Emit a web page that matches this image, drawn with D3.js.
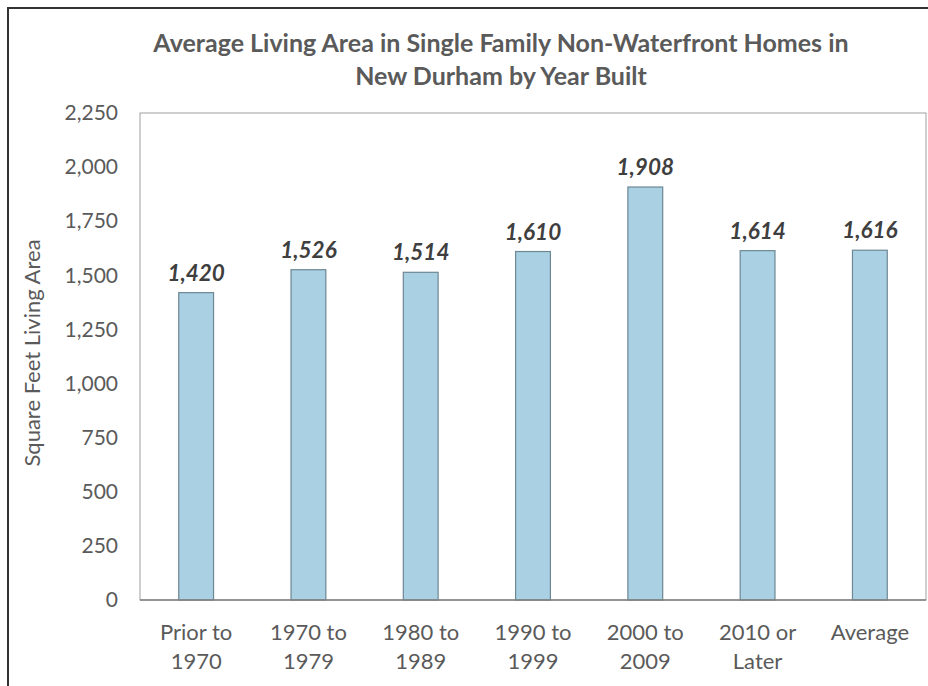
<!DOCTYPE html>
<html>
<head>
<meta charset="utf-8">
<title>Average Living Area by Year Built</title>
<script src="https://cdnjs.cloudflare.com/ajax/libs/d3/7.8.5/d3.min.js"></script>
<style>
  body { margin: 0; background: #fff; }
  svg text { font-family: Lato, "Open Sans", sans-serif; }
</style>
</head>
<body>
<svg id="chart" width="928" height="686"></svg>
<script>
// data
var categories = [["Prior to", "1970"], ["1970 to", "1979"], ["1980 to", "1989"], ["1990 to", "1999"],
                  ["2000 to", "2009"], ["2010 or", "Later"], ["Average"]];
var livingArea = [1420, 1526, 1514, 1610, 1908, 1614, 1616];
var yTicks = [0, 250, 500, 750, 1000, 1250, 1500, 1750, 2000, 2250];
var titleLines = ["Average Living Area in Single Family Non-Waterfront Homes in", "New Durham by Year Built"];

var svg = d3.select("#chart");
var margin = {top: 113, right: 2, bottom: 86, left: 140};
var width = 928 - margin.left - margin.right;
var height = 686 - margin.top - margin.bottom;

// outer frame of the scanned page
svg.append("path")
   .attr("d", "M8,686 L8,8 L928,8")
   .attr("fill", "none")
   .attr("stroke", "#333")
   .attr("stroke-width", 2);

svg.append("g").selectAll("text")
   .data(titleLines)
   .enter().append("text")
   .attr("x", 501)
   .attr("y", function(d, i) { return 52 + i * 33; })
   .attr("text-anchor", "middle")
   .attr("font-size", 25)
   .attr("font-weight", "bold")
   .attr("fill", "#5a5a5a")
   .text(function(d) { return d; });

var chart = svg.append("g").attr("transform", "translate(" + margin.left + "," + margin.top + ")");

var x = d3.scaleBand().domain(d3.range(categories.length)).range([0, width]).paddingInner(0.69).paddingOuter(0.345);
var y = d3.scaleLinear().domain([0, 2250]).range([height, 0]);

// plot frame
chart.append("rect")
     .attr("width", width).attr("height", height)
     .attr("fill", "none")
     .attr("stroke", "#a0a0a0")
     .attr("stroke-width", 1);

chart.selectAll(".bar")
     .data(livingArea)
     .enter().append("rect")
     .attr("class", "bar")
     .attr("x", function(d, i) { return x(i); })
     .attr("y", function(d) { return y(d); })
     .attr("width", x.bandwidth())
     .attr("height", function(d) { return height - y(d); })
     .attr("fill", "#a9d1e3")
     .attr("stroke", "#6d8793")
     .attr("stroke-width", 1.2);

chart.selectAll(".val")
     .data(livingArea)
     .enter().append("text")
     .attr("class", "val")
     .attr("x", function(d, i) { return x(i) + x.bandwidth() / 2; })
     .attr("y", function(d) { return y(d) - 12; })
     .attr("text-anchor", "middle")
     .attr("font-size", 22.5)
     .attr("font-weight", "bold")
     .attr("font-style", "italic")
     .attr("fill", "#3f3f3f")
     .text(function(d) { return d3.format(",")(d); });

// x axis line
chart.append("line")
     .attr("x1", 0).attr("x2", width)
     .attr("y1", height).attr("y2", height)
     .attr("stroke", "#808080").attr("stroke-width", 1.5);

var yAxis = chart.append("g")
     .call(d3.axisLeft(y).tickValues(yTicks).tickFormat(d3.format(",")).tickSize(0).tickPadding(22));
yAxis.select(".domain").remove();
yAxis.selectAll("text").attr("font-size", 21).attr("fill", "#5a5a5a").attr("font-family", "Lato, sans-serif");

var xAxis = chart.append("g")
     .attr("transform", "translate(0," + height + ")")
     .call(d3.axisBottom(x).tickSize(0).tickFormat(""));
xAxis.select(".domain").remove();
xAxis.selectAll(".tick").each(function(d) {
  var t = d3.select(this).append("text")
            .attr("text-anchor", "middle")
            .attr("font-size", 22)
            .attr("fill", "#5a5a5a");
  categories[d].forEach(function(line, j) {
    t.append("tspan").attr("x", 0).attr("y", 40 + j * 29).text(line);
  });
});

svg.append("text")
   .attr("transform", "translate(40,353) rotate(-90)")
   .attr("text-anchor", "middle")
   .attr("font-size", 22)
   .attr("fill", "#5a5a5a")
   .text("Square Feet Living Area");
</script>
</body>
</html>
